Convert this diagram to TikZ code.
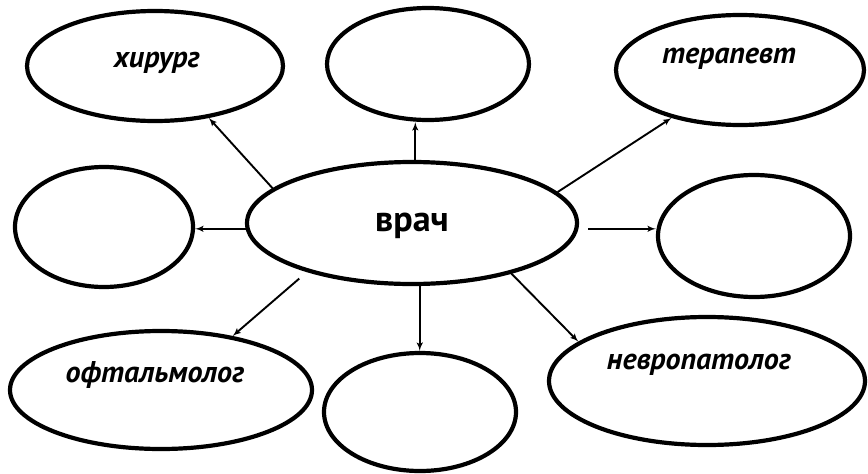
\documentclass[tikz,border=0pt]{standalone}
\usepackage{fontspec}
\setmainfont{PT Sans}
\usetikzlibrary{shapes.geometric, arrows, positioning}

\begin{document}
\begin{tikzpicture}[
x=1pt, y=-1pt,
oval/.style ={ellipse, draw, line width=4.2pt, inner sep=0pt},
lbl/.style  ={font=\fontsize{30}{32}\selectfont\bfseries\itshape, anchor=base, inner sep=0pt},
main/.style ={font=\fontsize{36}{38}\selectfont\bfseries, anchor=base, inner sep=0pt},
line/.style ={draw, -latex', line width=1.9pt},
]
\useasboundingbox (0,0) rectangle (868,474);

% Define the nodes
\node[oval, minimum width=256, minimum height=110] (hir) at (155,66)  {};
\node[oval, minimum width=202, minimum height=112] (top) at (428,64)  {};
\node[oval, minimum width=248, minimum height=110] (ter) at (740,70)  {};
\node[oval, minimum width=178, minimum height=120] (lft) at (104,227) {};
\node[oval, minimum width=330, minimum height=122] (vr)  at (412,223) {};
\node[oval, minimum width=192, minimum height=122] (rgt) at (754,236) {};
\node[oval, minimum width=302, minimum height=118] (oft) at (161,390) {};
\node[oval, minimum width=192, minimum height=118] (bot) at (420,412) {};
\node[oval, minimum width=316, minimum height=128] (nev) at (707,381) {};

% Labels
\node[lbl]  (hir_t) at (157,67)  {хирург};
\node[lbl]  (ter_t) at (729,63)  {терапевт};
\node[main] (vr_t)  at (412,231) {врач};
\node[lbl]  (oft_t) at (155,382) {офтальмолог};
\node[lbl]  (nev_t) at (699,369) {невропатолог};

% Connect the nodes
\path[line] (vr.166) -- (hir.-44);
\path[line] (vr.87.3) -- (vr.87.3 |- top.south);
\path[line] (vr.12.8) -- (ter.-145);
\path[line] (vr.182.5) -- (vr.182.5 -| lft.east);
\path[line, shorten <=10pt] (vr.-2.5) -- (vr.-2.5 -| rgt.west);
\path[line, shorten <=10pt] (vr.205) -- (oft.37);
\path[line] (vr.-83) -- (vr.-83 |- bot.north);
\path[line] (vr.-27.3) -- (nev.163);

\end{tikzpicture}
\end{document}
